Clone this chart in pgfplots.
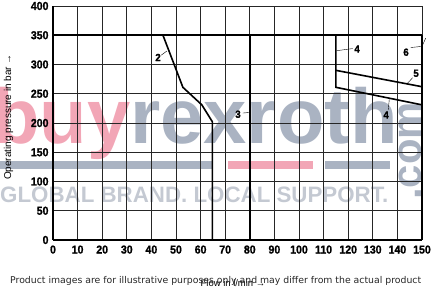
\documentclass[border=0pt]{standalone}
\usepackage{pgfplots}
\pgfplotsset{compat=1.18}
\usepackage{fontspec}
\usepackage{graphicx}
\setmainfont{Liberation Sans}
\newfontfamily\dejavu{DejaVu Sans}
\newfontface\tickfont{Liberation Sans Bold}[FakeBold=1.2, FakeStretch=0.92]
\definecolor{wmpink}{HTML}{F2A6B6}
\definecolor{wmgray}{HTML}{AAB3C2}
\definecolor{wmlight}{HTML}{C4C9D2}
\begin{document}
\begin{tikzpicture}[x=1bp,y=1bp]
\path[use as bounding box] (0,0) rectangle (431,288);
% watermark (behind the grid)
\node[anchor=base west, inner sep=0] at (-8,145) {\fontsize{78}{78}\selectfont\bfseries\textcolor{wmpink}{buy}\textcolor{wmgray}{rexroth}};
\fill[wmgray] (0,119) rectangle (213,127);
\fill[wmpink] (228,119) rectangle (313,127);
\fill[wmgray] (325,119) rectangle (390,127);
\node[anchor=base west, inner sep=0, text=wmlight] at (0,86) {\resizebox{388bp}{!}{\fontsize{28}{28}\selectfont\bfseries GLOBAL BRAND. LOCAL SUPPORT.}};
\node[rotate=90, anchor=base west, inner sep=0, text=wmgray] at (421,88) {\fontsize{42}{42}\selectfont\bfseries .com};
\begin{axis}[
  at={(53bp,48bp)}, anchor=south west,
  scale only axis, width=369bp, height=234bp,
  xmin=0, xmax=150, ymin=0, ymax=400,
  xtick={0,10,...,150}, ytick={0,50,...,400},
  grid=major, grid style={line width=0.7bp, color=black!85},
  axis x line*=bottom, axis y line*=left,
  axis line style={line width=1.6bp, -},
  major tick length=0pt,
  /pgf/number format/assume math mode=true,
  xticklabel={\pgfmathprintnumber{\tick}},
  yticklabel={\pgfmathprintnumber{\tick}},
  tick label style={font=\fontsize{11.5}{11.5}\selectfont\tickfont},
  xticklabel style={yshift=-2bp},
  yticklabel style={xshift=-1bp},
  clip=false,
]
\addplot[line width=1.6bp] coordinates {(0,350) (150,350)};
\addplot[line width=1.6bp] coordinates {(44.7,350) (52.8,261) (60.5,231) (64.8,202) (64.8,0)};
\addplot[line width=1.6bp] coordinates {(80,0) (80,350)};
\addplot[line width=1.6bp] coordinates {(115,350) (115,261) (150,231)};
\addplot[line width=1.6bp] coordinates {(115,290) (150,262)};
\addplot[line width=1.6bp] coordinates {(150,0) (150,350)};
\begin{scope}[font=\fontsize{10.5}{10.5}\selectfont\tickfont]
\node at (axis cs:42.7,312) {2};
\draw[line width=0.4bp] (axis cs:44,316) -- (axis cs:46.3,323);
\node at (axis cs:75.2,215) {3};
\draw[line width=0.4bp] (axis cs:77.2,217) -- (axis cs:79.7,218);
\node at (axis cs:123.6,326.5) {4};
\draw[line width=0.4bp] (axis cs:115.3,323.6) -- (axis cs:121.8,327.2);
\node at (axis cs:143.5,321) {6};
\draw[line width=0.4bp] (axis cs:145.4,329) -- (axis cs:150,331) -- (axis cs:151.5,345);
\node at (axis cs:147.6,285) {5};
\draw[line width=0.4bp] (axis cs:146.2,277.4) -- (axis cs:144,267.5);
\node at (axis cs:135.4,213.7) {4};
\draw[line width=0.4bp] (axis cs:136.3,223) -- (axis cs:136.7,240.5);
\end{scope}
\end{axis}
% axis labels and footer
\node[rotate=90, anchor=base, inner sep=0] at (11,171) {\fontsize{10}{10}\selectfont Operating pressure in bar →};
\node[anchor=base, inner sep=0] at (233,2) {\fontsize{9.5}{10}\selectfont Flow in l/min →};
\node[anchor=base west, inner sep=0, text=black!85] at (10,5) {\dejavu\fontsize{9.35}{10}\selectfont Product images are for illustrative purposes only and may differ from the actual product};
\end{tikzpicture}
\end{document}
